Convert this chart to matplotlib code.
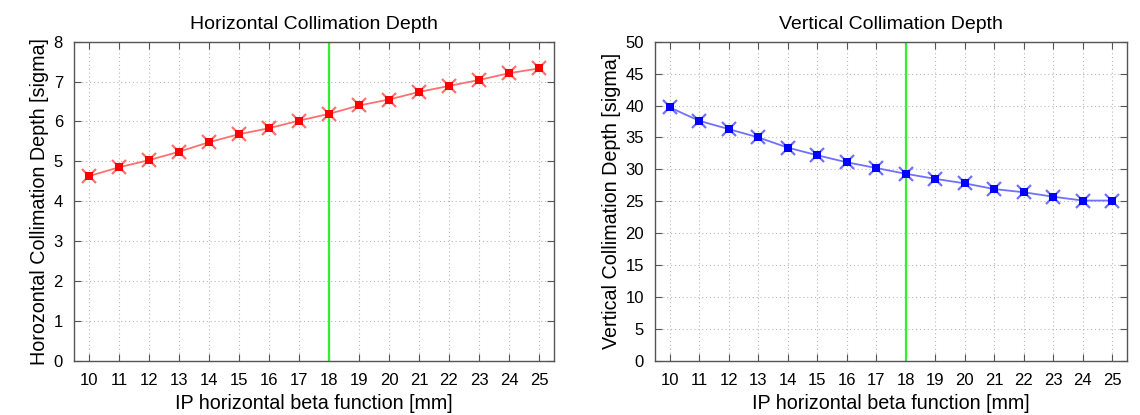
import matplotlib
matplotlib.use("Agg")
import matplotlib.pyplot as plt

plt.rcParams['font.family'] = ['Liberation Sans', 'DejaVu Sans']

beta = [10, 11, 12, 13, 14, 15, 16, 17, 18, 19, 20, 21, 22, 23, 24, 25]
h_depth = [4.63, 4.85, 5.03, 5.24, 5.48, 5.68, 5.83, 6.02, 6.19, 6.40, 6.55, 6.74, 6.89, 7.04, 7.21, 7.33]
v_depth = [39.7, 37.6, 36.3, 35.0, 33.4, 32.2, 31.1, 30.2, 29.3, 28.5, 27.8, 26.9, 26.4, 25.7, 25.1, 25.1]
nominal_beta = 18

titles = ["Horizontal Collimation Depth", "Vertical Collimation Depth"]
ylabels = ["Horozontal Collimation Depth [sigma]", "Vertical Collimation Depth [sigma]"]
xlabel = "IP horizontal beta function [mm]"

W, H = 1140, 415
fig = plt.figure(figsize=(W / 100, H / 100), dpi=100)

panels = [
    dict(rect=(74, 41.7, 554, 360.7), y=h_depth, color='#ff0000', light='#ff7070',
         ylim=(0, 8), yticks=list(range(0, 9))),
    dict(rect=(655, 41.7, 1127, 360.7), y=v_depth, color='#0000ff', light='#7070ff',
         ylim=(0, 50), yticks=list(range(0, 55, 5))),
]

for i, p in enumerate(panels):
    x0, y0, x1, y1 = p['rect']
    ax = fig.add_axes([x0 / W, 1 - y1 / H, (x1 - x0) / W, (y1 - y0) / H])
    ax.set_xlim(9.5, 25.5)
    ax.set_ylim(*p['ylim'])
    ax.set_xticks(beta)
    ax.set_yticks(p['yticks'])
    ax.grid(True, linestyle=(0, (1, 2.5)), color='#b8b8b8', linewidth=0.8)
    ax.set_axisbelow(True)
    ax.axvline(nominal_beta, color='#33ee33', linewidth=1.6, zorder=2)
    ax.plot(beta, p['y'], color=p['light'], linewidth=1.3, zorder=3)
    ax.plot(beta, p['y'], linestyle='none', marker='x', markersize=10,
            markeredgewidth=1.6, color=p['light'], zorder=4)
    ax.plot(beta, p['y'], linestyle='none', marker='s', markersize=5.5,
            color=p['color'], markeredgewidth=0, zorder=5)
    for s in ax.spines.values():
        s.set_color('#555555')
        s.set_linewidth(1.0)
    ax.tick_params(direction='in', top=True, right=True, length=5,
                   color='#555555', labelsize=12, pad=9)
    ax.tick_params(axis='y', pad=8)
    ax.set_title(titles[i], fontsize=14, pad=9)
    ax.set_xlabel(xlabel, fontsize=14.2, labelpad=4)
    ax.set_ylabel(ylabels[i], fontsize=14.2, labelpad=3)

fig.savefig("out.png", dpi=100)
